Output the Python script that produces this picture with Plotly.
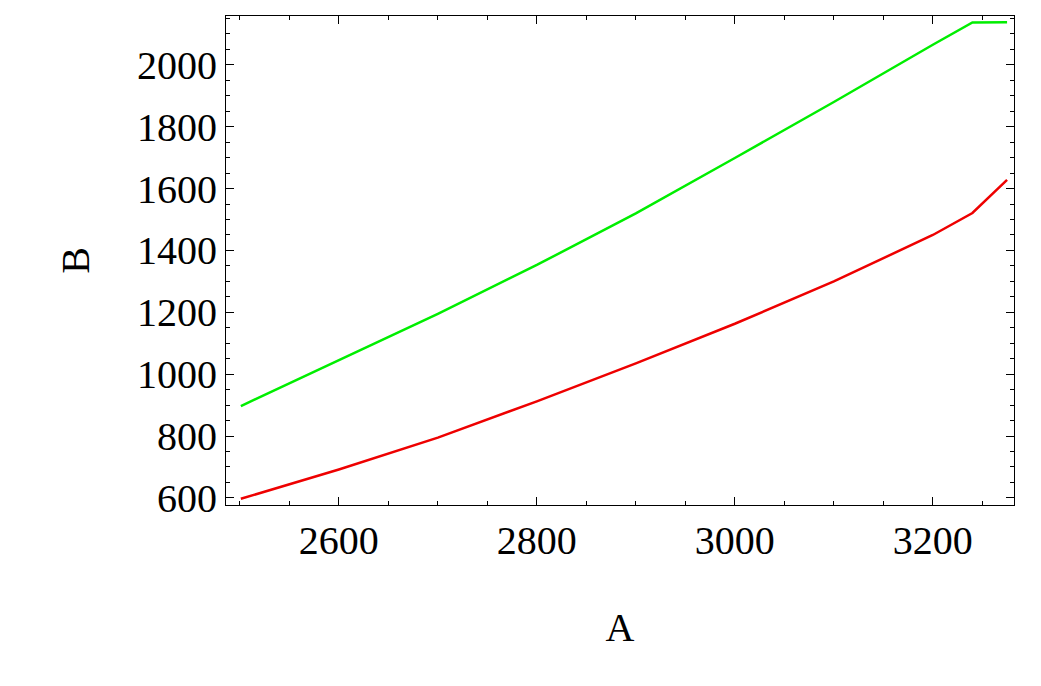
import plotly.graph_objects as go

# values
a_green = [2501, 2600, 2700, 2800, 2900, 3000, 3100, 3200, 3240, 3275]
b_green = [897, 1045, 1195, 1353, 1520, 1699, 1880, 2065, 2137, 2138]
a_red = [2501, 2600, 2700, 2800, 2900, 3000, 3100, 3150, 3200, 3240, 3275]
b_red = [597, 692, 795, 912, 1035, 1163, 1300, 1375, 1450, 1521, 1628]

fig = go.Figure()
fig.add_trace(go.Scatter(x=a_green, y=b_green, mode="lines", line=dict(color="#00ee00", width=2.5)))
fig.add_trace(go.Scatter(x=a_red, y=b_red, mode="lines", line=dict(color="#ee0000", width=2.5)))

font = dict(family="Liberation Serif", size=40, color="black")
axis = dict(showgrid=False, zeroline=False, showline=True, linecolor="black", linewidth=1,
            mirror="allticks", ticks="inside", ticklen=8, tickcolor="black", tickfont=font)
fig.update_xaxes(**axis, range=[2486, 3282], dtick=200,
                 minor=dict(ticks="inside", ticklen=4, dtick=50, tickcolor="black"),
                 title=dict(text="A", font=font, standoff=50))
fig.update_yaxes(**axis, range=[577, 2158], dtick=200,
                 minor=dict(ticks="inside", ticklen=4, dtick=50, tickcolor="black"),
                 title=dict(text="B", font=font, standoff=35))
fig.update_layout(width=1041, height=686, showlegend=False, plot_bgcolor="white", paper_bgcolor="white",
                  margin=dict(l=218, r=35, t=8, b=189))
fig.write_html("out.html")
